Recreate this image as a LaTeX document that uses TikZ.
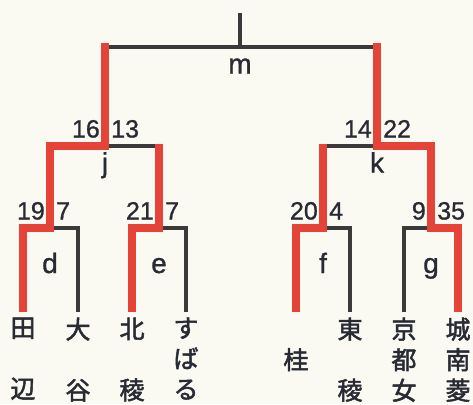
\documentclass[tikz,border=0pt]{standalone}
\usepackage{fontspec}
\setmainfont{Liberation Sans}[FakeBold=1]
\newfontfamily\jpfont{Noto Sans CJK JP}[FakeBold=2]
\usetikzlibrary{calc}

\definecolor{paper}{RGB}{250,249,242}
\definecolor{winred}{RGB}{229,66,56}
\definecolor{lineblack}{RGB}{58,58,58}
\definecolor{textblack}{RGB}{40,42,52}

\begin{document}
\begin{tikzpicture}[
  x=1pt, y=-1pt,
  font=\fontsize{25}{25}\selectfont,
  text=textblack,
  lost/.style={draw=lineblack, line width=3.5pt},
  won/.style={draw=winred, line width=7.5pt},
  lscore/.style={anchor=base east, inner sep=0pt, xshift=-5pt, yshift=8.5pt},
  rscore/.style={anchor=base west, inner sep=0pt, xshift=6pt, yshift=8.5pt},
  upperlabel/.style={anchor=base, inner sep=0pt, yshift=-26.5pt,
    font=\fontsize{28}{28}\selectfont},
  lowerlabel/.style={anchor=base, inner sep=0pt, yshift=-45pt,
    font=\fontsize{28}{28}\selectfont},
  team/.style={anchor=north, inner sep=0pt, align=center, yshift=-5.5pt,
    font=\jpfont\fontsize{25}{30.5}\selectfont}
]

\fill[paper] (0,0) rectangle (473,404);
\useasboundingbox (0,0) rectangle (473,404);

% matches
\coordinate (top) at (240,13);
\coordinate (m) at (240,47);
\coordinate (j) at (105,146);
\coordinate (k) at (377,146);
\coordinate (d) at (50,228);
\coordinate (e) at (159,228);
\coordinate (f) at (323,228);
\coordinate (g) at (431,228);

% teams
\coordinate (tanabe) at (23,312);
\coordinate (otani) at (78,312);
\coordinate (hokuryo) at (132,312);
\coordinate (subaru) at (186,312);
\coordinate (katsura) at (296,312);
\coordinate (toryo) at (350,312);
\coordinate (kyotojo) at (404,312);
\coordinate (jonan) at (458,312);

% losing lines
\draw[lost] (top) -- (m);
\draw[lost] (j |- m) -- (k |- m);
\draw[lost] (otani) |- (d);
\draw[lost] (subaru) |- (e);
\draw[lost] (j) -- (e |- j);
\draw[lost] (toryo) |- (f);
\draw[lost] (kyotojo) |- (g);
\draw[lost] (f |- k) -- (k);

% winning lines
\draw[won, shorten >=-3.5pt] (tanabe) |- (d) -- (d |- j) -- (j) -- (j |- m);
\draw[won, shorten >=-2pt] (hokuryo) |- (e) -- (e |- j);
\draw[won, shorten >=-2pt] (katsura) |- (f) -- (f |- k);
\draw[won, shorten >=-3.5pt] (jonan) |- (g) -- (g |- k) -- (k) -- (k |- m);

% scores
\node[lscore] (j-l) at (j) {16};
\node[rscore] (j-r) at (j) {13};
\node[lscore] (k-l) at (k) {14};
\node[rscore] (k-r) at (k) {22};
\node[lscore] (d-l) at (d) {19};
\node[rscore] (d-r) at (d) {7};
\node[lscore] (e-l) at (e) {21};
\node[rscore] (e-r) at (e) {7};
\node[lscore] (f-l) at (f) {20};
\node[rscore] (f-r) at (f) {4};
\node[lscore] (g-l) at (g) {9};
\node[rscore] (g-r) at (g) {35};

% match names
\node[upperlabel] (m-name) at (m) {m};
\node[upperlabel] (j-name) at (j) {j};
\node[upperlabel] (k-name) at (k) {k};
\node[lowerlabel] (d-name) at (d) {d};
\node[lowerlabel] (e-name) at (e) {e};
\node[lowerlabel] (f-name) at (f) {f};
\node[lowerlabel] (g-name) at (g) {g};

% team names
\node[team] (tanabe-name) at (tanabe) {田\\\phantom{田}\\辺};
\node[team] (otani-name) at (otani) {大\\\phantom{大}\\谷};
\node[team] (hokuryo-name) at (hokuryo) {北\\\phantom{北}\\稜};
\node[team] (subaru-name) at (subaru) {す\\ば\\る};
\node[team] (katsura-name) at (katsura) {\phantom{桂}\\桂};
\node[team] (toryo-name) at (toryo) {東\\\phantom{東}\\稜};
\node[team] (kyotojo-name) at (kyotojo) {京\\都\\女};
\node[team] (jonan-name) at (jonan) {城\\南\\菱};

\end{tikzpicture}
\end{document}
